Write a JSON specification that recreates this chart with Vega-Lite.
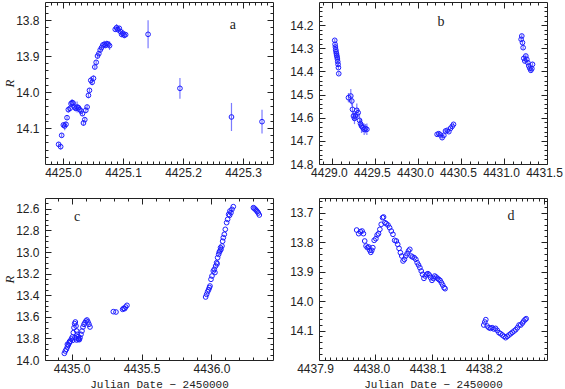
{
  "$schema": "https://vega.github.io/schema/vega-lite/v6.json",
  "background": "white",
  "padding": {"left": 3, "top": 1, "right": 0, "bottom": 0},
  "bounds": "flush",
  "columns": 2,
  "spacing": {"row": 34, "column": 46},
  "config": {
    "view": {"stroke": "#222", "strokeWidth": 1},
    "axis": {"domain": false, "grid": false, "labelFont": "Liberation Sans", "labelFontSize": 12, "labelColor": "#222", "tickColor": "#222", "labelFlush": false, "labelOverlap": false, "labelBound": false, "titleFont": "Liberation Mono", "titleFontWeight": "normal", "titleFontSize": 11, "titleColor": "#222"}
  },
  "datasets": {
    "a": [
      {"x":4424.9927,"y":14.1454,"e":0.006},{"x":4424.9961,"y":14.1519,"e":0.008},{"x":4424.9978,"y":14.1204,"e":0.006},{"x":4425.0006,"y":14.0917,"e":0.008},{"x":4425.0028,"y":14.0944,"e":0.012},{"x":4425.0050,"y":14.0898,"e":0.008},{"x":4425.0067,"y":14.0713,"e":0.006},{"x":4425.0089,"y":14.0490,"e":0.008},{"x":4425.0117,"y":14.0454,"e":0.006},{"x":4425.0134,"y":14.0324,"e":0.008},{"x":4425.0151,"y":14.0296,"e":0.010},{"x":4425.0168,"y":14.0306,"e":0.008},{"x":4425.0190,"y":14.0417,"e":0.010},{"x":4425.0212,"y":14.0454,"e":0.008},{"x":4425.0235,"y":14.0417,"e":0.015},{"x":4425.0257,"y":14.0435,"e":0.008},{"x":4425.0279,"y":14.0490,"e":0.010},{"x":4425.0302,"y":14.0528,"e":0.008},{"x":4425.0324,"y":14.0602,"e":0.006},{"x":4425.0341,"y":14.0861,"e":0.008},{"x":4425.0363,"y":14.0769,"e":0.006},{"x":4425.0380,"y":14.0509,"e":0.008},{"x":4425.0402,"y":14.0417,"e":0.006},{"x":4425.0424,"y":14.0093,"e":0.008},{"x":4425.0441,"y":13.9954,"e":0.006},{"x":4425.0463,"y":13.9676,"e":0.010},{"x":4425.0486,"y":13.9731,"e":0.008},{"x":4425.0508,"y":13.9620,"e":0.008},{"x":4425.0530,"y":13.9306,"e":0.006},{"x":4425.0553,"y":13.9176,"e":0.006},{"x":4425.0575,"y":13.9000,"e":0.008},{"x":4425.0597,"y":13.8935,"e":0.006},{"x":4425.0620,"y":13.8833,"e":0.008},{"x":4425.0642,"y":13.8769,"e":0.006},{"x":4425.0664,"y":13.8694,"e":0.008},{"x":4425.0687,"y":13.8676,"e":0.010},{"x":4425.0709,"y":13.8704,"e":0.008},{"x":4425.0731,"y":13.8657,"e":0.008},{"x":4425.0754,"y":13.8676,"e":0.006},{"x":4425.0776,"y":13.8713,"e":0.012},{"x":4425.0871,"y":13.8259,"e":0.006},{"x":4425.0893,"y":13.8213,"e":0.010},{"x":4425.0916,"y":13.8269,"e":0.008},{"x":4425.0938,"y":13.8231,"e":0.006},{"x":4425.0960,"y":13.8324,"e":0.008},{"x":4425.0977,"y":13.8398,"e":0.008},{"x":4425.0999,"y":13.8370,"e":0.010},{"x":4425.1022,"y":13.8426,"e":0.008},{"x":4425.1044,"y":13.8407,"e":0.006},{"x":4425.1418,"y":13.8398,"e":0.039},{"x":4425.1949,"y":13.9898,"e":0.029},{"x":4425.2808,"y":14.0694,"e":0.039},{"x":4425.3317,"y":14.0824,"e":0.033}
    ],
    "b": [
      {"x":4429.0328,"y":14.2656,"e":0.006},{"x":4429.0367,"y":14.2829,"e":0.008},{"x":4429.0406,"y":14.2944,"e":0.006},{"x":4429.0445,"y":14.3060,"e":0.008},{"x":4429.0484,"y":14.3146,"e":0.006},{"x":4429.0523,"y":14.3233,"e":0.008},{"x":4429.0561,"y":14.3304,"e":0.006},{"x":4429.0600,"y":14.3377,"e":0.008},{"x":4429.0639,"y":14.3463,"e":0.006},{"x":4429.0678,"y":14.3578,"e":0.008},{"x":4429.0717,"y":14.3693,"e":0.010},{"x":4429.0756,"y":14.3837,"e":0.008},{"x":4429.0795,"y":14.4097,"e":0.006},
      {"x":4429.1923,"y":14.5134,"e":0.020},{"x":4429.2195,"y":14.5062,"e":0.030},{"x":4429.2312,"y":14.5278,"e":0.020},{"x":4429.2390,"y":14.5638,"e":0.025},{"x":4429.2506,"y":14.5926,"e":0.020},{"x":4429.2623,"y":14.6027,"e":0.025},{"x":4429.2740,"y":14.5926,"e":0.020},{"x":4429.2895,"y":14.5681,"e":0.030},{"x":4429.3051,"y":14.5782,"e":0.020},{"x":4429.3206,"y":14.6113,"e":0.030},{"x":4429.3323,"y":14.6257,"e":0.020},{"x":4429.3440,"y":14.6358,"e":0.030},{"x":4429.3595,"y":14.6430,"e":0.020},{"x":4429.3751,"y":14.6502,"e":0.025},{"x":4429.3907,"y":14.6473,"e":0.020},{"x":4429.4062,"y":14.6502,"e":0.025},
      {"x":4430.2230,"y":14.6718,"e":0.006},{"x":4430.2424,"y":14.6689,"e":0.006},{"x":4430.2619,"y":14.6747,"e":0.006},{"x":4430.2813,"y":14.6862,"e":0.008},{"x":4430.3008,"y":14.6761,"e":0.006},{"x":4430.3202,"y":14.6574,"e":0.006},{"x":4430.3397,"y":14.6545,"e":0.006},{"x":4430.3591,"y":14.6603,"e":0.006},{"x":4430.3786,"y":14.6459,"e":0.006},{"x":4430.3980,"y":14.6372,"e":0.006},{"x":4430.4136,"y":14.6286,"e":0.006},
      {"x":4431.1993,"y":14.2613,"e":0.008},{"x":4431.2071,"y":14.2469,"e":0.008},{"x":4431.2149,"y":14.2757,"e":0.008},{"x":4431.2227,"y":14.2973,"e":0.008},{"x":4431.2305,"y":14.3434,"e":0.008},{"x":4431.2421,"y":14.3549,"e":0.008},{"x":4431.2538,"y":14.3333,"e":0.008},{"x":4431.2654,"y":14.3477,"e":0.008},{"x":4431.2771,"y":14.3621,"e":0.008},{"x":4431.2888,"y":14.3765,"e":0.008},{"x":4431.3004,"y":14.3866,"e":0.008},{"x":4431.3121,"y":14.3953,"e":0.008},{"x":4431.3238,"y":14.3880,"e":0.008},{"x":4431.3315,"y":14.3693,"e":0.008}
    ],
    "c": [
      {"x":4434.9482,"y":13.9383},{"x":4434.9553,"y":13.9167},{"x":4434.9625,"y":13.9012},{"x":4434.9696,"y":13.8796},{"x":4434.9768,"y":13.8611},{"x":4434.9839,"y":13.8426},{"x":4434.9911,"y":13.8241},{"x":4434.9982,"y":13.8056},{"x":4435.0054,"y":13.7870},{"x":4435.0125,"y":13.7469},{"x":4435.0173,"y":13.7006},{"x":4435.0221,"y":13.6636},{"x":4435.0268,"y":13.6481},{"x":4435.0316,"y":13.6852},{"x":4435.0364,"y":13.7315},{"x":4435.0411,"y":13.7623},{"x":4435.0459,"y":13.7840},{"x":4435.0507,"y":13.7994},{"x":4435.0554,"y":13.8117},{"x":4435.0602,"y":13.7932},{"x":4435.0673,"y":13.7623},{"x":4435.0745,"y":13.7315},{"x":4435.0816,"y":13.6944},{"x":4435.0888,"y":13.6698},{"x":4435.0959,"y":13.6543},{"x":4435.1031,"y":13.6389},{"x":4435.1102,"y":13.6296},{"x":4435.1174,"y":13.6481},{"x":4435.1245,"y":13.6698},{"x":4435.1317,"y":13.6944},{"x":4435.0078,"y":13.8179},{"x":4435.0244,"y":13.7932},{"x":4435.0364,"y":13.8148},{"x":4435.0483,"y":13.8086},{"x":4434.9700,"y":13.8550},{"x":4434.9850,"y":13.8300},
      {"x":4435.2984,"y":13.5525},{"x":4435.3175,"y":13.5556},{"x":4435.3651,"y":13.5309},{"x":4435.3723,"y":13.5216},{"x":4435.3794,"y":13.5247},{"x":4435.3866,"y":13.5093},{"x":4435.3961,"y":13.4938},
      {"x":4435.9584,"y":13.4167},{"x":4435.9656,"y":13.3920},{"x":4435.9727,"y":13.3673},{"x":4435.9799,"y":13.3488},{"x":4435.9894,"y":13.3148},{"x":4435.9966,"y":13.2531},{"x":4436.0037,"y":13.2222},{"x":4436.0132,"y":13.1759},{"x":4436.0204,"y":13.1605},{"x":4436.0299,"y":13.1296},{"x":4436.0371,"y":13.0988},{"x":4436.0442,"y":13.0525},{"x":4436.0514,"y":13.0216},{"x":4436.0609,"y":12.9907},{"x":4436.0681,"y":12.9753},{"x":4436.0752,"y":12.9444},{"x":4436.0847,"y":12.8673},{"x":4436.0919,"y":12.8364},{"x":4436.0990,"y":12.7901},{"x":4436.1085,"y":12.7284},{"x":4436.1157,"y":12.6975},{"x":4436.1228,"y":12.6512},{"x":4436.1324,"y":12.6204},{"x":4436.1395,"y":12.6358},{"x":4436.1467,"y":12.6049},{"x":4436.1562,"y":12.5802},{"x":4436.0250,"y":13.1900},{"x":4436.0400,"y":13.1100},{"x":4436.0560,"y":13.0000},{"x":4436.0650,"y":12.9600},{"x":4436.0800,"y":12.9000},{"x":4436.1300,"y":12.6600},{"x":4435.9850,"y":13.3300},
      {"x":4436.3000,"y":12.5895},{"x":4436.3063,"y":12.5957},{"x":4436.3135,"y":12.6049},{"x":4436.3206,"y":12.6142},{"x":4436.3278,"y":12.6265},{"x":4436.3349,"y":12.6389},{"x":4436.3421,"y":12.6574}
    ],
    "d": [
      {"x":4437.9669,"y":13.7587},{"x":4437.9705,"y":13.7711},{"x":4437.9735,"y":13.7643},{"x":4437.9765,"y":13.7621},{"x":4437.9789,"y":13.7711},{"x":4437.9812,"y":13.7960},{"x":4437.9836,"y":13.8130},{"x":4437.9860,"y":13.8186},{"x":4437.9884,"y":13.8164},{"x":4437.9902,"y":13.8277},{"x":4437.9920,"y":13.8345},{"x":4437.9938,"y":13.8277},{"x":4437.9956,"y":13.8186},{"x":4437.9980,"y":13.7937},{"x":4438.0010,"y":13.7881},{"x":4438.0033,"y":13.7756},{"x":4438.0057,"y":13.7711},{"x":4438.0081,"y":13.7564},{"x":4438.0105,"y":13.7394},{"x":4438.0129,"y":13.7168},{"x":4438.0147,"y":13.7145},{"x":4438.0171,"y":13.7338},{"x":4438.0195,"y":13.7372},{"x":4438.0225,"y":13.7417},{"x":4438.0254,"y":13.7507},{"x":4438.0284,"y":13.7621},{"x":4438.0314,"y":13.7734},{"x":4438.0344,"y":13.7937},{"x":4438.0374,"y":13.7960},{"x":4438.0398,"y":13.8073},{"x":4438.0422,"y":13.8209},{"x":4438.0446,"y":13.8356},{"x":4438.0470,"y":13.8469},{"x":4438.0493,"y":13.8639},{"x":4438.0517,"y":13.8583},{"x":4438.0541,"y":13.8469},{"x":4438.0565,"y":13.8390},{"x":4438.0589,"y":13.8300},{"x":4438.0613,"y":13.8243},{"x":4438.0637,"y":13.8469},{"x":4438.0661,"y":13.8503},{"x":4438.0691,"y":13.8526},{"x":4438.0720,"y":13.8583},{"x":4438.0744,"y":13.8696},{"x":4438.0768,"y":13.8775},{"x":4438.0792,"y":13.8866},{"x":4438.0816,"y":13.8979},{"x":4438.0840,"y":13.9092},{"x":4438.0864,"y":13.9228},{"x":4438.0888,"y":13.9149},{"x":4438.0912,"y":13.9092},{"x":4438.0935,"y":13.9069},{"x":4438.0959,"y":13.9115},{"x":4438.0983,"y":13.9205},{"x":4438.1007,"y":13.9296},{"x":4438.1031,"y":13.9228},{"x":4438.1055,"y":13.9149},{"x":4438.1079,"y":13.9183},{"x":4438.1103,"y":13.9228},{"x":4438.1127,"y":13.9262},{"x":4438.1151,"y":13.9296},{"x":4438.1174,"y":13.9375},{"x":4438.1198,"y":13.9454},{"x":4438.1222,"y":13.9545},{"x":4438.1240,"y":13.9579},
      {"x":4438.1927,"y":14.0812},{"x":4438.1945,"y":14.0711},{"x":4438.1963,"y":14.0631},{"x":4438.1987,"y":14.0846},{"x":4438.2017,"y":14.0903},{"x":4438.2047,"y":14.0926},{"x":4438.2076,"y":14.0903},{"x":4438.2106,"y":14.0948},{"x":4438.2136,"y":14.0926},{"x":4438.2166,"y":14.0994},{"x":4438.2196,"y":14.1073},{"x":4438.2226,"y":14.1107},{"x":4438.2256,"y":14.1152},{"x":4438.2286,"y":14.1197},{"x":4438.2315,"y":14.1242},{"x":4438.2345,"y":14.1197},{"x":4438.2375,"y":14.1152},{"x":4438.2405,"y":14.1107},{"x":4438.2435,"y":14.1061},{"x":4438.2465,"y":14.1016},{"x":4438.2495,"y":14.0971},{"x":4438.2524,"y":14.0903},{"x":4438.2554,"y":14.0812},{"x":4438.2584,"y":14.0812},{"x":4438.2614,"y":14.0744},{"x":4438.2638,"y":14.0676},{"x":4438.2662,"y":14.0631},{"x":4438.2680,"y":14.0597}
    ],
    "la": [{"x":4425.283,"y":13.814,"t":"a"}],
    "lb": [{"x":4430.268,"y":14.186,"t":"b"}],
    "lc": [{"x":4435.039,"y":12.676,"t":"c"}],
    "ld": [{"x":4438.241,"y":13.711,"t":"d"}]
  },
  "concat": [
    {
      "width": 228, "height": 162,
      "resolve": {"axis": {"x": "independent", "y": "independent"}},
      "layer": [
        {"data": {"name": "a"}, "mark": {"type": "errorbar", "color": "#5a5aff", "thickness": 1.2, "opacity": 0.8},
         "encoding": {
           "x": {"field": "x", "type": "quantitative", "scale": {"domain": [4424.97, 4425.35], "nice": false, "zero": false}, "axis": null},
           "y": {"field": "y", "type": "quantitative", "scale": {"domain": [13.75, 14.2], "reverse": true, "nice": false, "zero": false}, "axis": null},
           "yError": {"field": "e"}}},
        {"data": {"name": "a"}, "mark": {"type": "point", "shape": "circle", "filled": false, "color": "#1c1cff", "size": 22, "strokeWidth": 1, "opacity": 1},
         "encoding": {
           "x": {"field": "x", "type": "quantitative", "scale": {"domain": [4424.97, 4425.35], "nice": false, "zero": false}, "axis": {"orient": "bottom", "values": [4425.0, 4425.1, 4425.2, 4425.3], "format": ".1f", "tickSize": -6, "labelPadding": 9, "title": null}},
           "y": {"field": "y", "type": "quantitative", "scale": {"domain": [13.75, 14.2], "reverse": true, "nice": false, "zero": false}, "axis": {"orient": "left", "values": [13.8, 13.9, 14.0, 14.1], "format": ".1f", "tickSize": -6, "labelPadding": 12, "title": "R", "titleFont": "Liberation Serif", "titleFontStyle": "italic", "titleFontSize": 13, "titlePadding": -1}}}},
        {"data": {"name": "la"}, "mark": {"type": "text", "font": "Liberation Serif", "fontSize": 14, "color": "#222"},
         "encoding": {
           "x": {"field": "x", "type": "quantitative", "scale": {"domain": [4424.97, 4425.35], "nice": false, "zero": false}, "axis": {"orient": "bottom", "values": [4424.98,4424.99,4425.0,4425.01,4425.02,4425.03,4425.04,4425.05,4425.06,4425.07,4425.08,4425.09,4425.1,4425.11,4425.12,4425.13,4425.14,4425.15,4425.16,4425.17,4425.18,4425.19,4425.2,4425.21,4425.22,4425.23,4425.24,4425.25,4425.26,4425.27,4425.28,4425.29,4425.3,4425.31,4425.32,4425.33,4425.34], "tickSize": -3, "labels": false, "title": null}},
           "y": {"field": "y", "type": "quantitative", "scale": {"domain": [13.75, 14.2], "reverse": true, "nice": false, "zero": false}, "axis": {"orient": "left", "values": [13.76,13.78,13.8,13.82,13.84,13.86,13.88,13.9,13.92,13.94,13.96,13.98,14.0,14.02,14.04,14.06,14.08,14.1,14.12,14.14,14.16,14.18], "tickSize": -3, "labels": false, "title": null}},
           "text": {"field": "t"}}},
        {"data": {"name": "la"}, "mark": {"type": "text", "opacity": 0},
         "encoding": {
           "x": {"field": "x", "type": "quantitative", "scale": {"domain": [4424.97, 4425.35], "nice": false, "zero": false}, "axis": {"orient": "top", "values": [4425.0, 4425.1, 4425.2, 4425.3], "tickSize": -6, "labels": false, "title": null}},
           "y": {"field": "y", "type": "quantitative", "scale": {"domain": [13.75, 14.2], "reverse": true, "nice": false, "zero": false}, "axis": {"orient": "right", "values": [13.8, 13.9, 14.0, 14.1], "tickSize": -6, "labels": false, "title": null}},
           "text": {"field": "t"}}},
        {"data": {"name": "la"}, "mark": {"type": "text", "opacity": 0},
         "encoding": {
           "x": {"field": "x", "type": "quantitative", "scale": {"domain": [4424.97, 4425.35], "nice": false, "zero": false}, "axis": {"orient": "top", "values": [4424.98,4424.99,4425.0,4425.01,4425.02,4425.03,4425.04,4425.05,4425.06,4425.07,4425.08,4425.09,4425.1,4425.11,4425.12,4425.13,4425.14,4425.15,4425.16,4425.17,4425.18,4425.19,4425.2,4425.21,4425.22,4425.23,4425.24,4425.25,4425.26,4425.27,4425.28,4425.29,4425.3,4425.31,4425.32,4425.33,4425.34], "tickSize": -3, "labels": false, "title": null}},
           "y": {"field": "y", "type": "quantitative", "scale": {"domain": [13.75, 14.2], "reverse": true, "nice": false, "zero": false}, "axis": {"orient": "right", "values": [13.76,13.78,13.8,13.82,13.84,13.86,13.88,13.9,13.92,13.94,13.96,13.98,14.0,14.02,14.04,14.06,14.08,14.1,14.12,14.14,14.16,14.18], "tickSize": -3, "labels": false, "title": null}},
           "text": {"field": "t"}}}
      ]
    },
    {
      "width": 228, "height": 162,
      "resolve": {"axis": {"x": "independent", "y": "independent"}},
      "layer": [
        {"data": {"name": "b"}, "mark": {"type": "errorbar", "color": "#5a5aff", "thickness": 1.2, "opacity": 0.8},
         "encoding": {
           "x": {"field": "x", "type": "quantitative", "scale": {"domain": [4428.85, 4431.5], "nice": false, "zero": false}, "axis": null},
           "y": {"field": "y", "type": "quantitative", "scale": {"domain": [14.1, 14.8], "reverse": true, "nice": false, "zero": false}, "axis": null},
           "yError": {"field": "e"}}},
        {"data": {"name": "b"}, "mark": {"type": "point", "shape": "circle", "filled": false, "color": "#1c1cff", "size": 22, "strokeWidth": 1, "opacity": 1},
         "encoding": {
           "x": {"field": "x", "type": "quantitative", "scale": {"domain": [4428.85, 4431.5], "nice": false, "zero": false}, "axis": {"orient": "bottom", "values": [4429.0, 4429.5, 4430.0, 4430.5, 4431.0, 4431.5], "format": ".1f", "tickSize": -6, "labelPadding": 9, "labelOffset": -3, "title": null}},
           "y": {"field": "y", "type": "quantitative", "scale": {"domain": [14.1, 14.8], "reverse": true, "nice": false, "zero": false}, "axis": {"orient": "left", "values": [14.2, 14.3, 14.4, 14.5, 14.6, 14.7, 14.8], "format": ".1f", "tickSize": -6, "labelPadding": 12, "title": null}}}},
        {"data": {"name": "lb"}, "mark": {"type": "text", "font": "Liberation Serif", "fontSize": 14, "color": "#222"},
         "encoding": {
           "x": {"field": "x", "type": "quantitative", "scale": {"domain": [4428.85, 4431.5], "nice": false, "zero": false}, "axis": {"orient": "bottom", "values": [4428.9,4429,4429.1,4429.2,4429.3,4429.4,4429.5,4429.6,4429.7,4429.8,4429.9,4430,4430.1,4430.2,4430.3,4430.4,4430.5,4430.6,4430.7,4430.8,4430.9,4431,4431.1,4431.2,4431.3,4431.4], "tickSize": -3, "labels": false, "title": null}},
           "y": {"field": "y", "type": "quantitative", "scale": {"domain": [14.1, 14.8], "reverse": true, "nice": false, "zero": false}, "axis": {"orient": "left", "values": [14.12,14.14,14.16,14.18,14.2,14.22,14.24,14.26,14.28,14.3,14.32,14.34,14.36,14.38,14.4,14.42,14.44,14.46,14.48,14.5,14.52,14.54,14.56,14.58,14.6,14.62,14.64,14.66,14.68,14.7,14.72,14.74,14.76,14.78], "tickSize": -3, "labels": false, "title": null}},
           "text": {"field": "t"}}},
        {"data": {"name": "lb"}, "mark": {"type": "text", "opacity": 0},
         "encoding": {
           "x": {"field": "x", "type": "quantitative", "scale": {"domain": [4428.85, 4431.5], "nice": false, "zero": false}, "axis": {"orient": "top", "values": [4429.0, 4429.5, 4430.0, 4430.5, 4431.0], "tickSize": -6, "labels": false, "title": null}},
           "y": {"field": "y", "type": "quantitative", "scale": {"domain": [14.1, 14.8], "reverse": true, "nice": false, "zero": false}, "axis": {"orient": "right", "values": [14.2, 14.3, 14.4, 14.5, 14.6, 14.7], "tickSize": -6, "labels": false, "title": null}},
           "text": {"field": "t"}}},
        {"data": {"name": "lb"}, "mark": {"type": "text", "opacity": 0},
         "encoding": {
           "x": {"field": "x", "type": "quantitative", "scale": {"domain": [4428.85, 4431.5], "nice": false, "zero": false}, "axis": {"orient": "top", "values": [4428.9,4429,4429.1,4429.2,4429.3,4429.4,4429.5,4429.6,4429.7,4429.8,4429.9,4430,4430.1,4430.2,4430.3,4430.4,4430.5,4430.6,4430.7,4430.8,4430.9,4431,4431.1,4431.2,4431.3,4431.4], "tickSize": -3, "labels": false, "title": null}},
           "y": {"field": "y", "type": "quantitative", "scale": {"domain": [14.1, 14.8], "reverse": true, "nice": false, "zero": false}, "axis": {"orient": "right", "values": [14.12,14.14,14.16,14.18,14.2,14.22,14.24,14.26,14.28,14.3,14.32,14.34,14.36,14.38,14.4,14.42,14.44,14.46,14.48,14.5,14.52,14.54,14.56,14.58,14.6,14.62,14.64,14.66,14.68,14.7,14.72,14.74,14.76,14.78], "tickSize": -3, "labels": false, "title": null}},
           "text": {"field": "t"}}}
      ]
    },
    {
      "width": 228, "height": 162,
      "resolve": {"axis": {"x": "independent", "y": "independent"}},
      "layer": [
        {"data": {"name": "c"}, "mark": {"type": "point", "shape": "circle", "filled": false, "color": "#1c1cff", "size": 22, "strokeWidth": 1, "opacity": 1},
         "encoding": {
           "x": {"field": "x", "type": "quantitative", "scale": {"domain": [4434.81, 4436.44], "nice": false, "zero": false}, "axis": {"orient": "bottom", "values": [4435.0, 4435.5, 4436.0], "format": ".1f", "tickSize": -6, "labelPadding": 9, "title": "Julian Date − 2450000", "titlePadding": 4}},
           "y": {"field": "y", "type": "quantitative", "scale": {"domain": [12.5, 14.0], "reverse": true, "nice": false, "zero": false}, "axis": {"orient": "left", "values": [12.6, 12.8, 13.0, 13.2, 13.4, 13.6, 13.8, 14.0], "format": ".1f", "tickSize": -6, "labelPadding": 12, "title": "R", "titleFont": "Liberation Serif", "titleFontStyle": "italic", "titleFontSize": 13, "titlePadding": -1}}}},
        {"data": {"name": "lc"}, "mark": {"type": "text", "font": "Liberation Serif", "fontSize": 14, "color": "#222"},
         "encoding": {
           "x": {"field": "x", "type": "quantitative", "scale": {"domain": [4434.81, 4436.44], "nice": false, "zero": false}, "axis": {"orient": "bottom", "values": [4434.9,4435,4435.1,4435.2,4435.3,4435.4,4435.5,4435.6,4435.7,4435.8,4435.9,4436,4436.1,4436.2,4436.3,4436.4], "tickSize": -3, "labels": false, "title": null}},
           "y": {"field": "y", "type": "quantitative", "scale": {"domain": [12.5, 14.0], "reverse": true, "nice": false, "zero": false}, "axis": {"orient": "left", "values": [12.55,12.6,12.65,12.7,12.75,12.8,12.85,12.9,12.95,13.0,13.05,13.1,13.15,13.2,13.25,13.3,13.35,13.4,13.45,13.5,13.55,13.6,13.65,13.7,13.75,13.8,13.85,13.9,13.95], "tickSize": -3, "labels": false, "title": null}},
           "text": {"field": "t"}}},
        {"data": {"name": "lc"}, "mark": {"type": "text", "opacity": 0},
         "encoding": {
           "x": {"field": "x", "type": "quantitative", "scale": {"domain": [4434.81, 4436.44], "nice": false, "zero": false}, "axis": {"orient": "top", "values": [4435.0, 4435.5, 4436.0], "tickSize": -6, "labels": false, "title": null}},
           "y": {"field": "y", "type": "quantitative", "scale": {"domain": [12.5, 14.0], "reverse": true, "nice": false, "zero": false}, "axis": {"orient": "right", "values": [12.6, 12.8, 13.0, 13.2, 13.4, 13.6, 13.8], "tickSize": -6, "labels": false, "title": null}},
           "text": {"field": "t"}}},
        {"data": {"name": "lc"}, "mark": {"type": "text", "opacity": 0},
         "encoding": {
           "x": {"field": "x", "type": "quantitative", "scale": {"domain": [4434.81, 4436.44], "nice": false, "zero": false}, "axis": {"orient": "top", "values": [4434.9,4435,4435.1,4435.2,4435.3,4435.4,4435.5,4435.6,4435.7,4435.8,4435.9,4436,4436.1,4436.2,4436.3,4436.4], "tickSize": -3, "labels": false, "title": null}},
           "y": {"field": "y", "type": "quantitative", "scale": {"domain": [12.5, 14.0], "reverse": true, "nice": false, "zero": false}, "axis": {"orient": "right", "values": [12.55,12.6,12.65,12.7,12.75,12.8,12.85,12.9,12.95,13.0,13.05,13.1,13.15,13.2,13.25,13.3,13.35,13.4,13.45,13.5,13.55,13.6,13.65,13.7,13.75,13.8,13.85,13.9,13.95], "tickSize": -3, "labels": false, "title": null}},
           "text": {"field": "t"}}}
      ]
    },
    {
      "width": 228, "height": 162,
      "resolve": {"axis": {"x": "independent", "y": "independent"}},
      "layer": [
        {"data": {"name": "d"}, "mark": {"type": "point", "shape": "circle", "filled": false, "color": "#1c1cff", "size": 22, "strokeWidth": 1, "opacity": 1},
         "encoding": {
           "x": {"field": "x", "type": "quantitative", "scale": {"domain": [4437.9, 4438.305], "nice": false, "zero": false}, "axis": {"orient": "bottom", "values": [4437.9, 4438.0, 4438.1, 4438.2], "format": ".1f", "tickSize": -6, "labelPadding": 9, "labelOffset": -4, "title": "Julian Date − 2450000", "titlePadding": 4}},
           "y": {"field": "y", "type": "quantitative", "scale": {"domain": [13.65, 14.2], "reverse": true, "nice": false, "zero": false}, "axis": {"orient": "left", "values": [13.7, 13.8, 13.9, 14.0, 14.1], "format": ".1f", "tickSize": -6, "labelPadding": 12, "title": null}}}},
        {"data": {"name": "ld"}, "mark": {"type": "text", "font": "Liberation Serif", "fontSize": 14, "color": "#222"},
         "encoding": {
           "x": {"field": "x", "type": "quantitative", "scale": {"domain": [4437.9, 4438.305], "nice": false, "zero": false}, "axis": {"orient": "bottom", "values": [4437.91,4437.92,4437.93,4437.94,4437.95,4437.96,4437.97,4437.98,4437.99,4438.0,4438.01,4438.02,4438.03,4438.04,4438.05,4438.06,4438.07,4438.08,4438.09,4438.1,4438.11,4438.12,4438.13,4438.14,4438.15,4438.16,4438.17,4438.18,4438.19,4438.2,4438.21,4438.22,4438.23,4438.24,4438.25,4438.26,4438.27,4438.28,4438.29,4438.3], "tickSize": -3, "labels": false, "title": null}},
           "y": {"field": "y", "type": "quantitative", "scale": {"domain": [13.65, 14.2], "reverse": true, "nice": false, "zero": false}, "axis": {"orient": "left", "values": [13.66,13.68,13.7,13.72,13.74,13.76,13.78,13.8,13.82,13.84,13.86,13.88,13.9,13.92,13.94,13.96,13.98,14.0,14.02,14.04,14.06,14.08,14.1,14.12,14.14,14.16,14.18], "tickSize": -3, "labels": false, "title": null}},
           "text": {"field": "t"}}},
        {"data": {"name": "ld"}, "mark": {"type": "text", "opacity": 0},
         "encoding": {
           "x": {"field": "x", "type": "quantitative", "scale": {"domain": [4437.9, 4438.305], "nice": false, "zero": false}, "axis": {"orient": "top", "values": [4438.0, 4438.1, 4438.2, 4438.3], "tickSize": -6, "labels": false, "title": null}},
           "y": {"field": "y", "type": "quantitative", "scale": {"domain": [13.65, 14.2], "reverse": true, "nice": false, "zero": false}, "axis": {"orient": "right", "values": [13.7, 13.8, 13.9, 14.0, 14.1], "tickSize": -6, "labels": false, "title": null}},
           "text": {"field": "t"}}},
        {"data": {"name": "ld"}, "mark": {"type": "text", "opacity": 0},
         "encoding": {
           "x": {"field": "x", "type": "quantitative", "scale": {"domain": [4437.9, 4438.305], "nice": false, "zero": false}, "axis": {"orient": "top", "values": [4437.91,4437.92,4437.93,4437.94,4437.95,4437.96,4437.97,4437.98,4437.99,4438.0,4438.01,4438.02,4438.03,4438.04,4438.05,4438.06,4438.07,4438.08,4438.09,4438.1,4438.11,4438.12,4438.13,4438.14,4438.15,4438.16,4438.17,4438.18,4438.19,4438.2,4438.21,4438.22,4438.23,4438.24,4438.25,4438.26,4438.27,4438.28,4438.29,4438.3], "tickSize": -3, "labels": false, "title": null}},
           "y": {"field": "y", "type": "quantitative", "scale": {"domain": [13.65, 14.2], "reverse": true, "nice": false, "zero": false}, "axis": {"orient": "right", "values": [13.66,13.68,13.7,13.72,13.74,13.76,13.78,13.8,13.82,13.84,13.86,13.88,13.9,13.92,13.94,13.96,13.98,14.0,14.02,14.04,14.06,14.08,14.1,14.12,14.14,14.16,14.18], "tickSize": -3, "labels": false, "title": null}},
           "text": {"field": "t"}}}
      ]
    }
  ]
}
